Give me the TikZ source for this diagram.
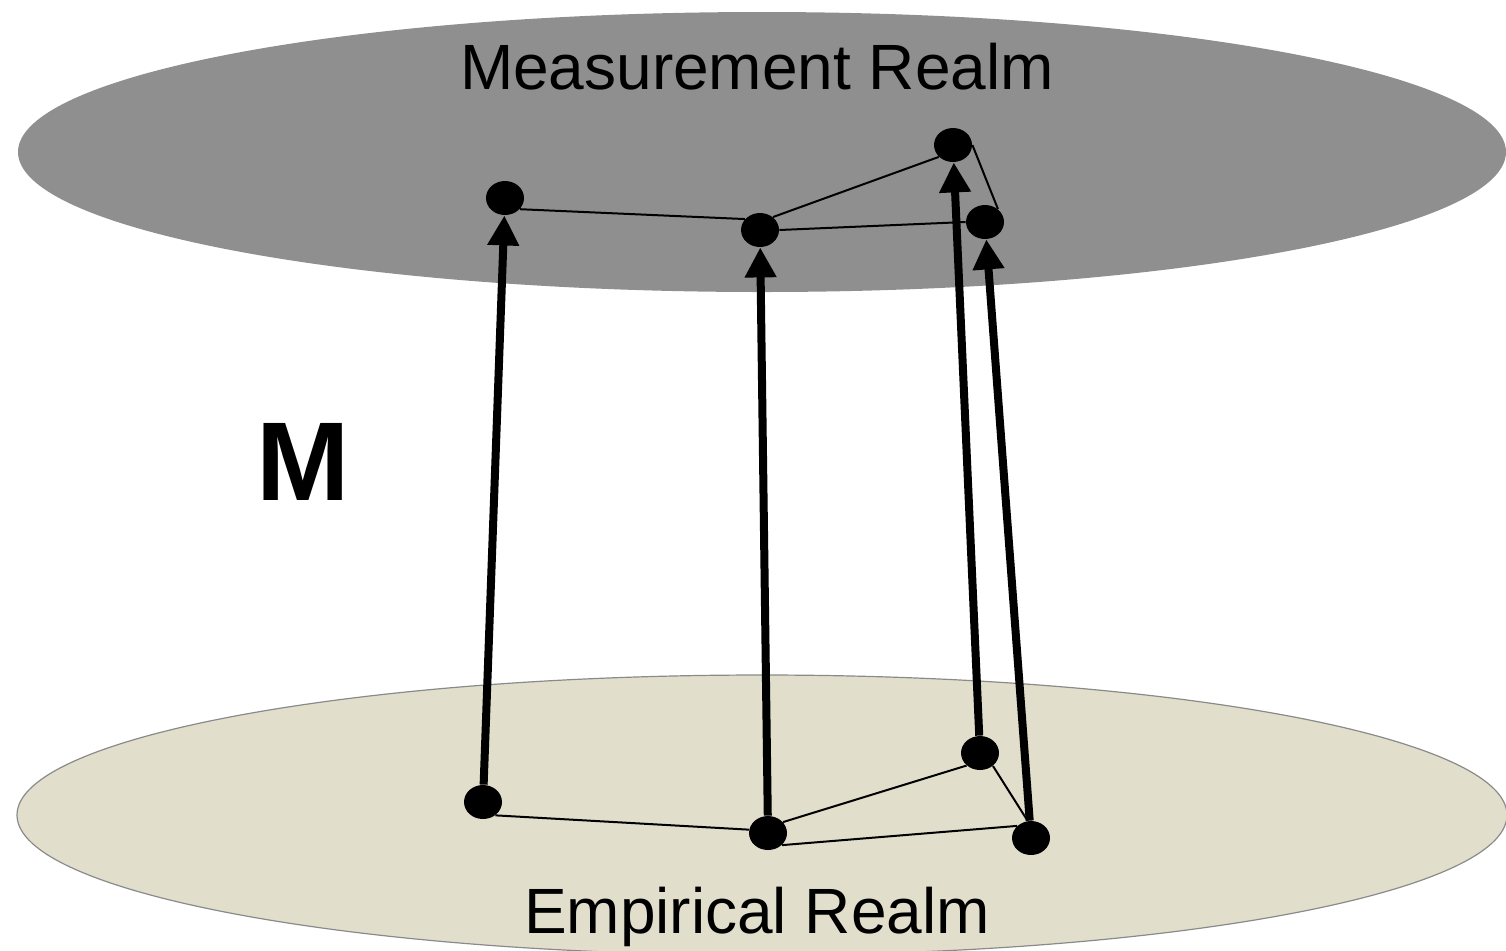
\documentclass[tikz,border=0pt]{standalone}
\usepackage{fontspec}
\setmainfont{Liberation Sans}
\usetikzlibrary{shapes.geometric,arrows.meta}
\definecolor{measgray}{HTML}{8F8F8F}
\definecolor{empfill}{HTML}{E1DFCC}
\definecolor{empedge}{HTML}{8A8A8A}
\begin{document}
\begin{tikzpicture}[x=0.5pt,y=-0.5pt,
  dot/.style={ellipse,fill=black,draw=none,minimum width=19pt,minimum height=17pt,inner sep=0pt},
  link/.style={line width=1pt,black},
  mapping/.style={line width=4pt,black,-{Triangle[width=15pt,length=15pt]}},
  realm/.style={font=\fontsize{32}{36}\selectfont}
]
\useasboundingbox (0,0) rectangle (1506,950);
\clip (0,0) rectangle (1506,950);
% realms
\fill[measgray] (762,152) ellipse [x radius=744, y radius=140];
\filldraw[fill=empfill,draw=empedge,line width=0.6pt] (762,815) ellipse [x radius=745, y radius=140];
\node[realm,anchor=base] (mr) at (757,89) {Measurement Realm};
\node[realm,anchor=base] (er) at (757,933) {Empirical Realm};
\node[font=\bfseries\fontsize{56}{60}\selectfont] (m) at (303,462) {M};
% top nodes
\node[dot] (a1) at (505,198) {};
\node[dot] (a2) at (760,230) {};
\node[dot] (a3) at (953,145) {};
\node[dot] (a4) at (985,222) {};
% bottom nodes
\node[dot] (b1) at (483,802) {};
\node[dot] (b2) at (768,833) {};
\node[dot] (b3) at (980,753) {};
\node[dot] (b4) at (1031,838) {};
% links
\draw[link] (a1.-37) -- (a2.144);
\draw[link] (a2.45) -- (a3.-140);
\draw[link] (a2.0) -- (a4.180);
\draw[link] (a3.0) -- (a4.45);
\draw[link] (b1.-47) -- (b2.170);
\draw[link] (b2.36) -- (b3.-137);
\draw[link] (b2.-41) -- (b4.139);
\draw[link] (b3.-45) -- (b4.101);
% mappings
\draw[mapping] (b1) -- (a1);
\draw[mapping] (b2) -- (a2);
\draw[mapping] (b3) -- (a3);
\draw[mapping] (b4) -- (a4);
\end{tikzpicture}
\end{document}
